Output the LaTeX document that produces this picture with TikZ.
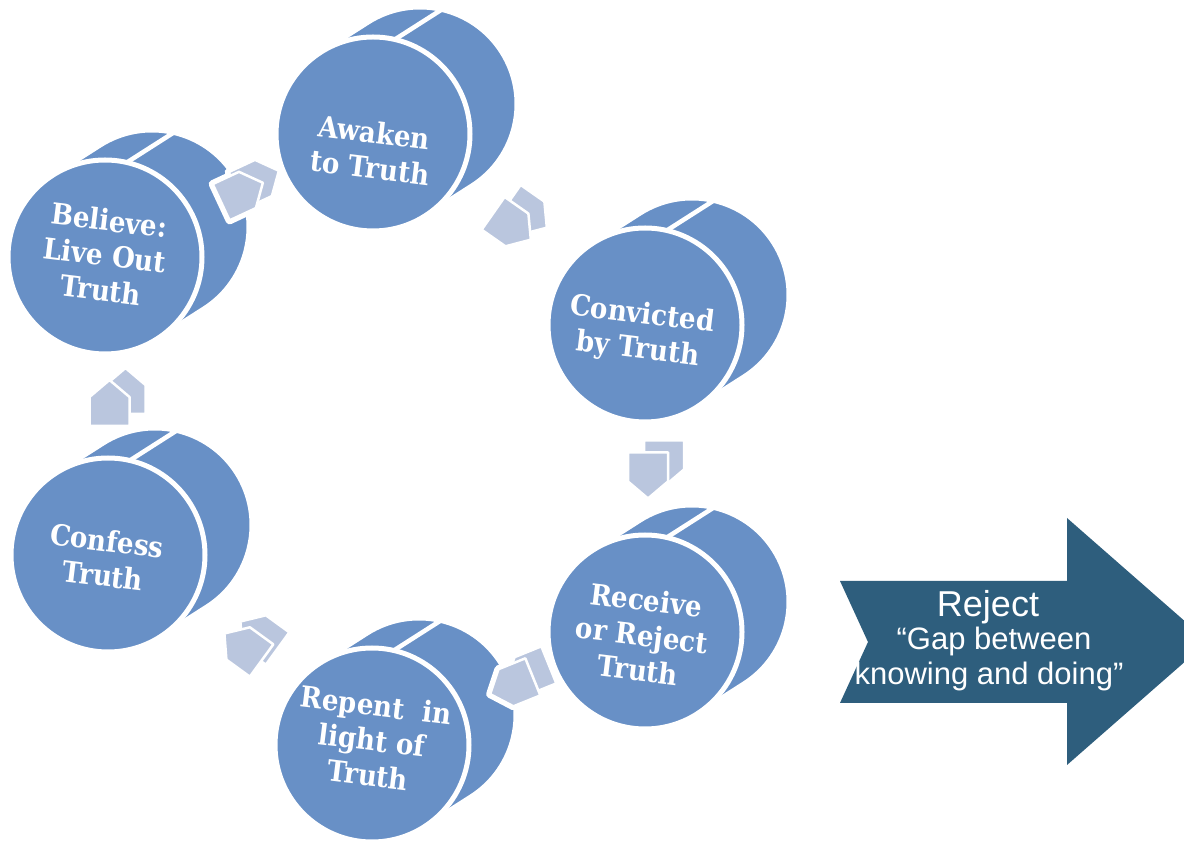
\documentclass[tikz,border=0pt]{standalone}
\usepackage{fontspec}
\newfontfamily\discfont{DejaVu Serif Condensed}
\newfontfamily\arrfont{Liberation Sans}
\usetikzlibrary{calc}
\definecolor{discblue}{RGB}{104,144,198}
\definecolor{arrlight}{RGB}{186,198,222}
\definecolor{bigblue}{RGB}{46,94,125}
\tikzset{
  discbody/.style={fill=discblue, draw=white, line width=5pt, line join=round},
  seamline/.style={draw=white, line width=4.5pt},
  disctext/.style={text=white, font=\discfont\bfseries\fontsize{29}{35}\selectfont, align=center, rotate=-7, inner sep=0pt},
  arrface/.style={fill=arrlight, draw=white, line width=2.5pt, line join=round},
  arrhalo/.style={draw=white, line width=8pt, line join=round},
  bigtext/.style={text=white, anchor=base, inner sep=0pt},
}
\newcommand\mydisc[1]{%
  \begin{scope}[shift={(#1)}]
    \filldraw[discbody] (122.5:97pt) arc[start angle=122.5, end angle=302.5, radius=97pt]
      -- ++(47pt,30pt) arc[start angle=302.5, end angle=482.5, radius=97pt] -- cycle;
    \draw[seamline] (77:97pt) -- ++(47pt,30pt);
    \filldraw[discbody] (0,0) circle[radius=97pt];
  \end{scope}}
\newcommand\myarrow[2]{%
  \begin{scope}[shift={(#1)}]
    \draw[arrhalo, shift={(16pt,12pt)}, rotate=#2] (-23pt,-20pt) -- (6pt,-20pt) -- (23pt,0pt) -- (6pt,20pt) -- (-23pt,20pt) -- cycle;
    \draw[arrhalo, rotate=#2] (-23pt,-20pt) -- (6pt,-20pt) -- (23pt,0pt) -- (6pt,20pt) -- (-23pt,20pt) -- cycle;
    \filldraw[arrface, shift={(16pt,12pt)}, rotate=#2] (-23pt,-20pt) -- (6pt,-20pt) -- (23pt,0pt) -- (6pt,20pt) -- (-23pt,20pt) -- cycle;
    \filldraw[arrface, rotate=#2] (-23pt,-20pt) -- (6pt,-20pt) -- (23pt,0pt) -- (6pt,20pt) -- (-23pt,20pt) -- cycle;
  \end{scope}}
\begin{document}
\begin{tikzpicture}[x=1pt, y=1pt]
  \useasboundingbox (0,0) rectangle (1184,844);
  \clip (0,0) rectangle (1184,844);
  \fill[white] (0,0) rectangle (1184,844);
  % disc centres
  \coordinate (awaken) at (373,710);
  \coordinate (convicted) at (645,519);
  \coordinate (receive) at (645,212);
  \coordinate (repent) at (372,99);
  \coordinate (confess) at (108,289);
  \coordinate (believe) at (105,587);
  \mydisc{awaken}
  \mydisc{convicted}
  \mydisc{receive}
  \mydisc{repent}
  \mydisc{confess}
  \mydisc{believe}
  % cycle arrows
  \coordinate (a1) at ($(believe)!0.5!(awaken)+(3,3)$);
  \coordinate (a2) at ($(awaken)!0.5!(convicted)+(3,3)$);
  \coordinate (a3) at ($(convicted)!0.5!(receive)+(3,3)$);
  \coordinate (a4) at ($(receive)!0.5!(repent)+(3,3)$);
  \coordinate (a5) at ($(repent)!0.5!(confess)+(3,3)$);
  \coordinate (a6) at ($(confess)!0.5!(believe)+(3,3)$);
  \myarrow{a1}{25}
  \myarrow{a2}{-35}
  \myarrow{a3}{-90}
  \myarrow{a4}{202}
  \myarrow{a5}{144}
  \myarrow{a6}{90}
  % disc texts
  \node[disctext] (tAwaken) at (372,694) {Awaken\\to Truth};
  \node[disctext] (tConvicted) at (640,511) {Convicted\\by Truth};
  \node[disctext] (tReceive) at (642,209) {Receive\\or Reject\\Truth};
  \node[disctext] (tRepent) at (372,104) {Repent~ in\\light of\\Truth};
  \node[disctext] (tConfess) at (105,286) {Confess\\Truth};
  \node[disctext] (tBelieve) at (105,589) {Believe:\\Live Out\\Truth};
  % reject arrow
  \fill[bigblue] (840,263) -- (1067,263) -- (1067,326) -- (1208,202.5) -- (1067,79) -- (1067,141) -- (840,141) -- (868,202) -- cycle;
  \node[bigtext, font=\arrfont\fontsize{36}{40}\selectfont] (rej) at (988,227) {Reject};
  \node[bigtext, font=\arrfont\fontsize{31}{35}\selectfont] (gap1) at (994,194) {“Gap between};
  \node[bigtext, font=\arrfont\fontsize{31}{35}\selectfont] (gap2) at (989,159) {knowing and doing”};
\end{tikzpicture}
\end{document}
